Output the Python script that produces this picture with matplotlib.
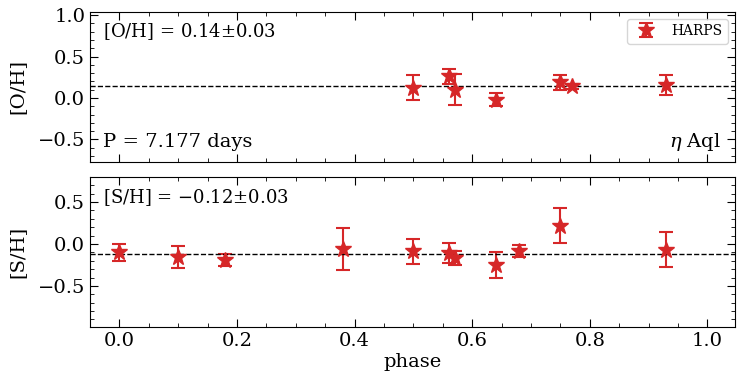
import numpy as np
import matplotlib
matplotlib.use("Agg")
import matplotlib.pyplot as plt
from matplotlib.ticker import MultipleLocator

# [O/H] measurements (HARPS)
phase_o = [0.50, 0.56, 0.57, 0.64, 0.75, 0.77, 0.93]
oh = [0.125, 0.26, 0.10, -0.02, 0.19, 0.14, 0.16]
oh_err = [0.15, 0.09, 0.19, 0.075, 0.09, 0.03, 0.12]
oh_mean = 0.14

# [S/H] measurements (HARPS)
phase_s = [0.00, 0.10, 0.18, 0.38, 0.50, 0.56, 0.57, 0.64, 0.68, 0.75, 0.93]
sh = [-0.10, -0.16, -0.19, -0.056, -0.085, -0.107, -0.167, -0.25, -0.085, 0.22, -0.07]
sh_err = [0.10, 0.13, 0.075, 0.25, 0.15, 0.115, 0.087, 0.16, 0.073, 0.21, 0.21]
sh_mean = -0.12

plt.rcParams['font.family'] = 'DejaVu Serif'
plt.rcParams['mathtext.fontset'] = 'dejavuserif'

color = '#d62728'
fig = plt.figure(figsize=(7.5, 3.8), dpi=100)
ax1 = fig.add_axes([0.12, 0.574, 0.86, 0.395])
ax2 = fig.add_axes([0.12, 0.1395, 0.86, 0.395])


def style(ax):
    ax.tick_params(which='both', direction='in', top=True, right=True, labelsize=14)
    ax.tick_params(which='major', length=6)
    ax.tick_params(which='minor', length=3)
    ax.xaxis.set_major_locator(MultipleLocator(0.2))
    ax.xaxis.set_minor_locator(MultipleLocator(0.05))
    ax.yaxis.set_major_locator(MultipleLocator(0.5))
    ax.yaxis.set_minor_locator(MultipleLocator(0.1))
    ax.set_xlim(-0.05, 1.047)


ax1.errorbar(phase_o, oh, yerr=oh_err, fmt='*', color=color, ms=12,
             capsize=5, elinewidth=1.5, capthick=1.5, label='HARPS')
ax1.axhline(oh_mean, color='k', ls='--', lw=1)
style(ax1)
ax1.set_ylim(-0.77, 1.04)
ax1.tick_params(labelbottom=False)
ax1.set_ylabel('[O/H]', fontsize=14, labelpad=8)
ax1.text(0.02, 0.865, '[O/H] = 0.14$\\pm$0.03', transform=ax1.transAxes,
         fontsize=13, va='center')
ax1.text(0.02, 0.13, 'P = 7.177 days', transform=ax1.transAxes,
         fontsize=14, va='center')
ax1.text(0.978, 0.13, '$\\eta$ Aql', transform=ax1.transAxes,
         fontsize=14, va='center', ha='right')
ax1.legend(loc='upper right', fontsize=10)

ax2.errorbar(phase_s, sh, yerr=sh_err, fmt='*', color=color, ms=12,
             capsize=5, elinewidth=1.5, capthick=1.5)
ax2.axhline(sh_mean, color='k', ls='--', lw=1)
style(ax2)
ax2.set_ylim(-0.99, 0.8)
ax2.set_ylabel('[S/H]', fontsize=14, labelpad=8)
ax2.set_xlabel('phase', fontsize=14, labelpad=2)
ax2.text(0.02, 0.865, '[S/H] = $-$0.12$\\pm$0.03', transform=ax2.transAxes,
         fontsize=13, va='center')

fig.savefig('out.png', dpi=100)
